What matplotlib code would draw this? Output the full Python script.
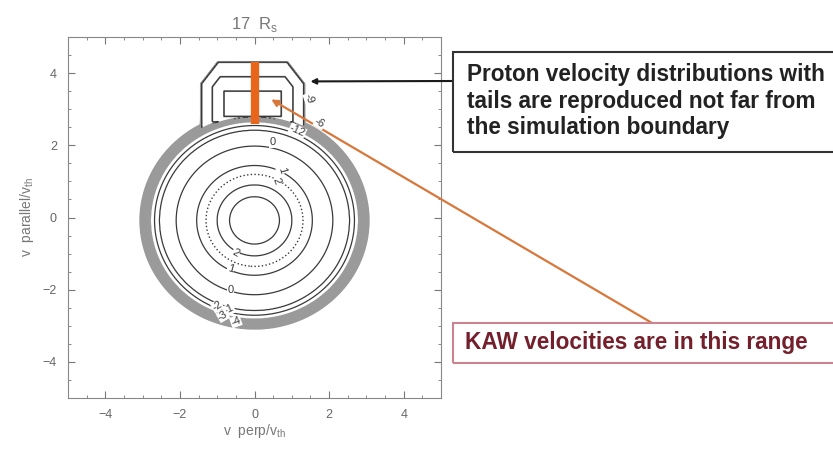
import numpy as np
import matplotlib
matplotlib.use("Agg")
import matplotlib.pyplot as plt
from matplotlib.patches import Rectangle

plt.rcParams['font.family'] = ['Liberation Sans', 'DejaVu Sans']
plt.rcParams['contour.negative_linestyle'] = 'solid'

# core of the distribution: contour radius (v_th) for each log level
core_radius = [0.0, 0.67, 1.0, 1.3, 1.55, 2.1, 2.55, 2.68, 2.80, 2.83, 2.86, 2.89, 2.92,
               2.95, 2.98, 3.01, 3.04, 3.06, 3.5]
core_level = [4, 3, 2, 1.5, 1, 0, -1, -2, -3, -4, -5, -6, -7, -8, -9, -10, -11, -12, -20]
core_center = (0.0, -0.08)

# tail (beam) contours: inset from the outer contour -> level
tail_inset = [-2.0, -0.6, -0.3, 0.0, 0.03]
tail_level = [-6.9, -7, -8, -9, -20]
tail_halfwidth = 1.38
tail_top = 4.3
tail_base = 2.5

# KAW velocity range (v_parallel) drawn at v_perp = 0
kaw_vperp = [0.0, 0.0]
kaw_vpar = [2.6, 4.3]

# contour labels (text, v_perp, v_par, angle)
label_text = ['0', '0', '1', '1', '2', '2', '-9', '-12', '-6', '-2', '-1', '-3', '-4']
label_x = [0.48, -0.64, -0.64, 0.72, -0.5, 0.58, 1.47, 1.15, 1.75, -1.0, -0.68, -0.85, -0.5]
label_y = [2.08, -2.0, -1.42, 1.3, -0.97, 1.0, 3.3, 2.4, 2.62, -2.45, -2.55, -2.72, -2.88]
label_rot = [0, 0, -15, -75, -30, -70, -70, -25, -30, 30, 25, 30, 20]

proton_text = "Proton velocity distributions with\ntails are reproduced not far from\nthe simulation boundary"
kaw_text = "KAW velocities are in this range"

v = np.linspace(-5, 5, 601)
X, Y = np.meshgrid(v, v)
R = np.hypot(X - core_center[0], (Y - core_center[1]) * 1.02)
core = np.interp(R, core_radius, core_level)

dx = np.abs(X + 0.05) - tail_halfwidth
dy = (Y - tail_top) * 0.75
T = np.maximum.reduce([dx, dy, (dx + dy + 0.45) / 1.2, (tail_base - Y) * 2.0])
tail = np.interp(T, tail_inset, tail_level)
F = np.maximum(core, tail)
F_tail = np.ma.masked_where(core > tail + 0.6, F)

fig = plt.figure(figsize=(8.33, 4.54), dpi=100)
ax = fig.add_axes([68 / 833, 56 / 454, 373 / 833, 361 / 454])

dark = '#3a3a3a'
gray = '#9a9a9a'
band_levels = [-12, -11, -10, -9, -8, -7, -6, -5, -4, -3]
core_levels = [-2, -1, 0, 1, 2, 3]
ax.contour(X, Y, F, levels=band_levels, colors=gray, linewidths=1.3, linestyles='solid')
ax.contour(X, Y, F_tail, levels=[-9, -8, -7], colors=dark, linewidths=0.9, linestyles='solid')
ax.contour(X, Y, F, levels=core_levels, colors=dark, linewidths=0.9, linestyles='solid')
ax.contour(X, Y, F, levels=[1.5], colors=dark, linewidths=1.0, linestyles=':')

for t, lx, ly, rot in zip(label_text, label_x, label_y, label_rot):
    ax.text(lx, ly, t, fontsize=8, color=dark, rotation=rot, ha='center', va='center',
            bbox=dict(fc='white', ec='none', pad=0.3), zorder=4)

ax.plot(kaw_vperp, kaw_vpar, color='#E8661C', lw=6, solid_capstyle='butt', zorder=5)

ax.set_xlim(-5, 5)
ax.set_ylim(-5, 5)
ax.set_xticks([-4, -2, 0, 2, 4])
ax.set_yticks([-4, -2, 0, 2, 4])
ax.set_xticks(np.arange(-5, 5.01, 0.5), minor=True)
ax.set_yticks(np.arange(-5, 5.01, 0.5), minor=True)
ax.tick_params(which='both', direction='in', top=True, right=True, colors='#777777',
               labelsize=9, labelcolor='#666666')
ax.tick_params(which='major', length=5, pad=8)
ax.tick_params(which='minor', length=2.5)
for s in ax.spines.values():
    s.set_color('#888888')
ax.set_title("17  R$_\\mathregular{s}$", color='#777777', fontsize=12, pad=6)
ax.set_xlabel("v  perp/v$_\\mathregular{th}$", color='#777777', fontsize=10, labelpad=1)
ax.set_ylabel("v  parallel/v$_\\mathregular{th}$", color='#777777', fontsize=10, labelpad=5)

# annotation boxes
fig.add_artist(Rectangle((453 / 833, 1 - 152 / 454), 0.6, 100 / 454, transform=fig.transFigure,
                         fill=False, edgecolor='#333333', lw=1.5, clip_on=False))
fig.text(467 / 833, 1 - 101 / 454, proton_text, fontsize=16.3, fontweight='bold',
         color='#222222', va='center', ha='left', linespacing=1.22)
fig.add_artist(Rectangle((453 / 833, 1 - 363 / 454), 0.6, 40 / 454, transform=fig.transFigure,
                         fill=False, edgecolor='#C98490', lw=1.5, clip_on=False))
fig.text(465 / 833, 1 - 343 / 454, kaw_text, fontsize=16.3, fontweight='bold',
         color='#74202C', va='center', ha='left')

ax.annotate('', xy=(1.5, 3.77), xycoords='data', xytext=(453 / 833, 1 - 81 / 454),
            textcoords='figure fraction',
            arrowprops=dict(arrowstyle='-|>', color='#1a1a1a', lw=1.5, mutation_scale=8,
                            shrinkA=0, shrinkB=0), annotation_clip=False)
ax.annotate('', xy=(0.45, 3.27), xycoords='data', xytext=(652 / 833, 1 - 323 / 454),
            textcoords='figure fraction',
            arrowprops=dict(arrowstyle='-|>', color='#D9773A', lw=1.6, mutation_scale=10,
                            shrinkA=0, shrinkB=0), annotation_clip=False)

fig.savefig("out.png", dpi=100)
